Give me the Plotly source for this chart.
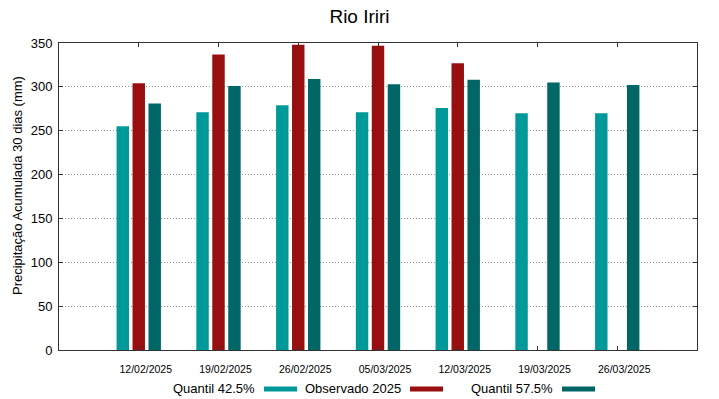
import plotly.graph_objects as go

dates = ["12/02/2025", "19/02/2025", "26/02/2025", "05/03/2025",
         "12/03/2025", "19/03/2025", "26/03/2025"]
q425 = [255, 271, 279, 271, 276, 270, 270]
obs2025 = [304, 337, 348, 347, 327, None, None]
q575 = [281, 301, 309, 303, 308, 305, 302]

names = ["Quantil 42.5%", "Observado 2025", "Quantil 57.5%"]
colors = ["#009999", "#990f0f", "#006666"]
series = [q425, obs2025, q575]
y_title = "Precipitação Acumulada 30 dias (mm)"
title = "Rio Iriri"

x_idx = list(range(len(dates)))

fig = go.Figure()
for nm, col, vals in zip(names, colors, series):
    fig.add_trace(go.Bar(x=x_idx, y=vals, name=nm, marker_color=col,
                         marker_line_width=0, showlegend=False))

font_family = "Liberation Sans, Arial, sans-serif"

L, R, T, B = 59, 697, 43, 350
W, H = 719, 399

fig.update_layout(
    width=W, height=H,
    margin=dict(l=L, r=W - R, t=T, b=H - B, autoexpand=False),
    paper_bgcolor="white", plot_bgcolor="white",
    barmode="group", bargap=0.4, bargroupgap=0.22,
    font=dict(family=font_family, color="black", size=13),
    title=dict(text=title, x=0.5, xanchor="center", y=1 - 16 / H, yanchor="middle",
               font=dict(size=19, family=font_family, color="black")),
    xaxis=dict(range=[-1, 7], tickvals=x_idx, ticktext=dates, automargin=False,
               tickfont=dict(size=10.5), showgrid=False, zeroline=False,
               ticklabelshift=7, ticklabelstandoff=9,
               showline=True, linecolor="#333333", linewidth=1, mirror="ticks",
               ticks="inside", ticklen=4, tickcolor="#333333"),
    yaxis=dict(range=[0, 350], dtick=50, tickfont=dict(size=13), automargin=False,
               ticklabelstandoff=3,
               showgrid=True, gridcolor="#999999", griddash="1px,2px", gridwidth=1,
               zeroline=False, showline=True, linecolor="#333333", linewidth=1,
               mirror="ticks", ticks="inside", ticklen=4, tickcolor="#333333"),
)

def px(xp):
    return (xp - L) / (R - L)

def py(yp):
    return (B - yp) / (B - T)

# y-axis title placed as gnuplot does (slightly above plot centre)
fig.add_annotation(x=px(17), y=py(186), xref="paper", yref="paper", text=y_title,
                   textangle=-90, showarrow=False, xanchor="center", yanchor="middle",
                   font=dict(size=13))

# gnuplot-style legend: text followed by a colour swatch
leg_text_right = [257, 403, 555]
for nm, col, xr in zip(names, colors, leg_text_right):
    fig.add_annotation(x=px(xr), y=py(388), xref="paper", yref="paper",
                       text=nm, showarrow=False, xanchor="right", yanchor="middle",
                       font=dict(size=13))
    fig.add_shape(type="rect", xref="paper", yref="paper",
                  x0=px(xr + 7), x1=px(xr + 40),
                  y0=py(391.5), y1=py(386.5),
                  fillcolor=col, line=dict(width=0))

fig.write_html("out.html", config={"displayModeBar": False},
               post_script="document.body.style.margin='0px';document.body.style.padding='0px';")
